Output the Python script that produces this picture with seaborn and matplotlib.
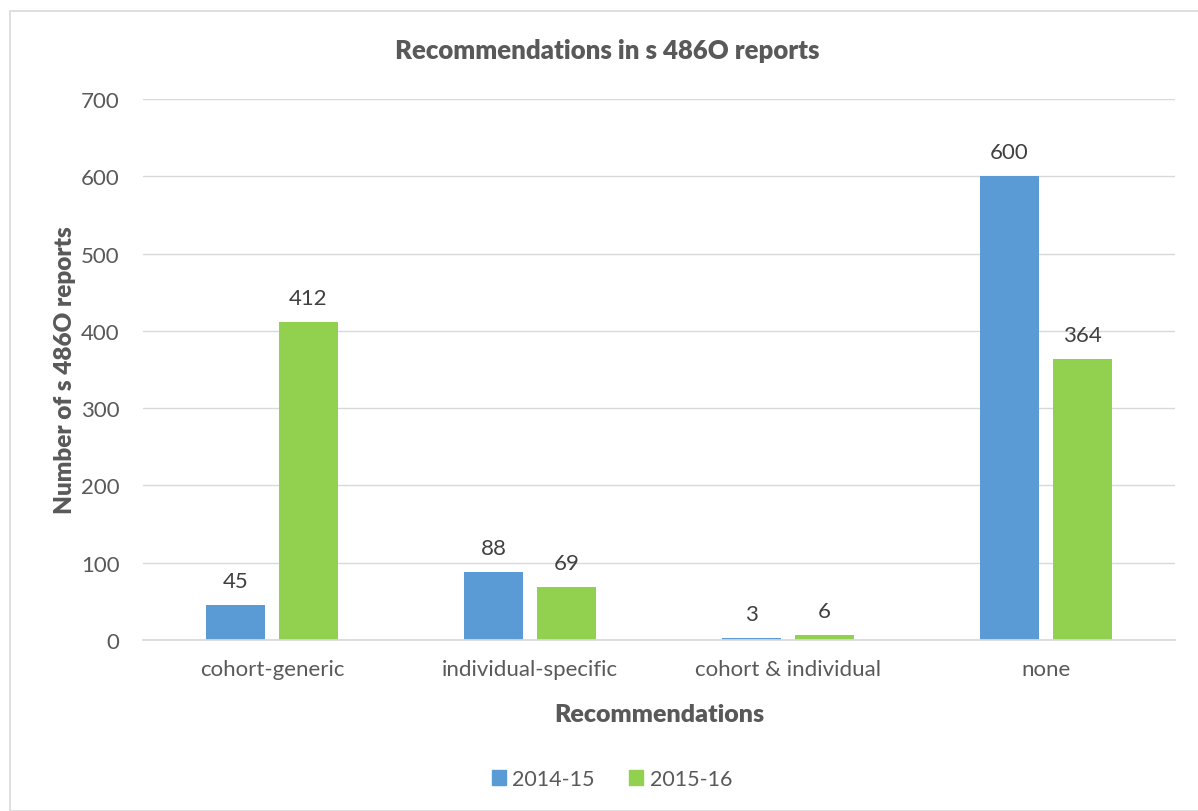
import matplotlib
matplotlib.use("Agg")
import matplotlib.pyplot as plt
import seaborn as sns
import pandas as pd
from matplotlib.patches import Rectangle

categories = ["cohort-generic", "individual-specific", "cohort & individual", "none"]
series_names = ["2014-15", "2015-16"]
values_2014 = [45, 88, 3, 600]
values_2015 = [412, 69, 6, 364]
colors = ["#5B9BD5", "#92D050"]

df = pd.DataFrame({
    "Recommendations": categories * 2,
    "Series": [series_names[0]] * 4 + [series_names[1]] * 4,
    "Value": values_2014 + values_2015,
})

sns.set_theme(style="white")
plt.rcParams['font.family'] = ['Lato', 'DejaVu Sans']
txt = "#595959"

fig = plt.figure(figsize=(11.98, 8.12), dpi=100)
ax = fig.add_axes([143/1198, 1-641/812, (1175-143)/1198, (641-100)/812])

sns.barplot(data=df, x="Recommendations", y="Value", hue="Series",
            palette=colors, width=0.566, gap=0.205, ax=ax, saturation=1,
            order=categories, hue_order=series_names, legend=False,
            linewidth=0)

for c in ax.containers:
    ax.bar_label(c, labels=[f"{v:.0f}" for v in c.datavalues], padding=10,
                 fontsize=16, color="#404040")

ax.set_ylim(0, 700)
ax.set_yticks(range(0, 701, 100))
ax.yaxis.grid(True, color="#D9D9D9", linewidth=1)
ax.set_axisbelow(True)
for s in ["top", "right", "left"]:
    ax.spines[s].set_visible(False)
ax.spines["bottom"].set_color("#D9D9D9")
ax.tick_params(axis="both", length=0, labelsize=16, colors=txt)
ax.tick_params(axis="y", pad=17)
ax.tick_params(axis="x", pad=14)
ax.set_xlabel("Recommendations", fontsize=18, fontweight="heavy", color=txt, labelpad=17)
ax.set_ylabel("Number of s 486O reports", fontsize=17.5, fontweight="heavy", color=txt, labelpad=3)

fig.text(607/1198, 1-51/812, "Recommendations in s 486O reports", ha="center", va="center",
         fontsize=18.5, fontweight="heavy", color=txt)

handles = [Rectangle((0, 0), 1, 1, color=c) for c in colors]
fig.legend(handles, series_names, loc="center", bbox_to_anchor=(612/1198, 1-780/812),
           ncol=2, frameon=False, fontsize=15.5, labelcolor=txt,
           handlelength=0.65, handleheight=0.65, handletextpad=0.3, columnspacing=1.6)

fig.patches.append(Rectangle((10/1198, 0), 1.0, 1-12/812, transform=fig.transFigure,
                             fill=False, edgecolor="#D9D9D9", linewidth=1.2))

fig.savefig("out.png", dpi=100)
